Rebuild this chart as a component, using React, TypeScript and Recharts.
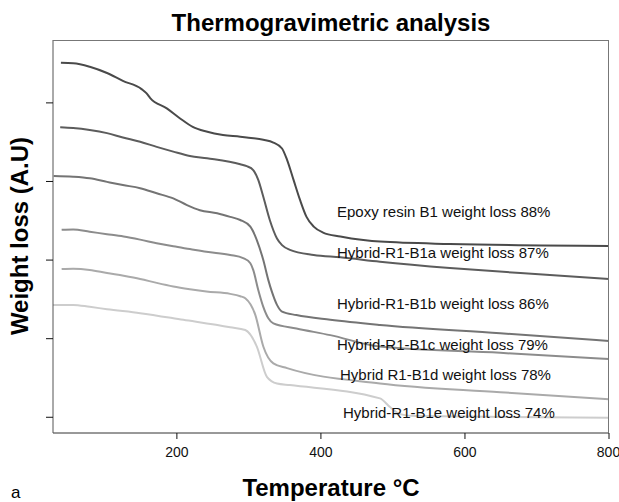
import React from 'react';
import { LineChart, Line, XAxis, YAxis } from 'recharts';

// temperature (°C) / relative weight (A.U)
const epoxyT = [39, 56, 79, 103, 125, 151, 158, 163, 186, 204, 222, 241, 264, 288, 297, 320, 334, 346, 353, 362, 371, 380, 390, 403, 427, 459, 482, 579, 800];
const epoxyW = [90.2, 90.1, 89.2, 87.6, 85.6, 83.5, 82.4, 81.2, 78.6, 76.1, 73.9, 72.7, 71.8, 71.4, 71.2, 70.6, 69.9, 68.4, 65.5, 60.4, 55.3, 51.0, 48.5, 47.0, 46.0, 45.1, 44.7, 44.1, 43.6];

const b1aT = [38, 56, 79, 103, 125, 149, 172, 195, 218, 242, 288, 297, 306, 313, 320, 329, 339, 346, 357, 390, 427, 482, 579, 677, 800];
const b1aW = [73.8, 73.6, 73.1, 72.3, 71.2, 70.1, 68.8, 67.6, 66.5, 65.9, 64.4, 63.9, 62.9, 60.4, 56.1, 50.2, 45.5, 43.8, 42.6, 41.3, 40.7, 39.6, 38.0, 36.7, 35.2];

const b1bT = [29, 56, 79, 103, 125, 149, 172, 195, 214, 232, 256, 274, 288, 302, 311, 320, 327, 332, 339, 346, 366, 413, 482, 649, 800];
const b1bW = [61.4, 61.2, 60.8, 59.9, 59.1, 58.3, 57.0, 55.7, 54.0, 52.7, 51.9, 51.0, 50.2, 48.5, 45.1, 40.0, 34.9, 31.9, 28.6, 26.9, 26.0, 24.8, 23.5, 21.4, 19.4];

const b1cT = [40, 56, 79, 103, 126, 149, 172, 195, 218, 241, 274, 292, 302, 306, 313, 320, 327, 334, 366, 413, 482, 649, 800];
const b1cW = [47.7, 47.8, 47.2, 46.6, 46.0, 45.2, 44.3, 43.5, 42.8, 42.1, 41.3, 40.5, 39.2, 37.5, 32.4, 28.1, 25.2, 23.9, 22.6, 20.9, 18.0, 16.4, 14.8];

const b1dT = [40, 56, 79, 103, 126, 149, 172, 195, 218, 241, 274, 288, 295, 309, 320, 334, 353, 482, 649, 800];
const b1dW = [37.7, 37.8, 37.5, 36.7, 36.0, 35.2, 34.2, 33.3, 32.6, 32.0, 31.4, 30.8, 30.3, 26.0, 18.0, 13.7, 12.5, 8.6, 6.4, 4.6];

const b1eT = [28, 56, 79, 103, 149, 209, 274, 295, 311, 325, 339, 357, 482, 496, 510, 531, 800];
const b1eW = [28.6, 28.6, 28.1, 27.5, 26.5, 24.8, 22.9, 22.2, 18.0, 10.3, 8.6, 8.2, 4.8, 2.6, 0.8, 0.3, -0.1];

const xTicks = [200, 400, 600, 800];
const yTicks = [0, 20, 40, 60, 80];

const labels = [
  'Epoxy resin B1 weight loss 88%',
  'Hybrid-R1-B1a weight loss 87%',
  'Hybrid-R1-B1b weight loss 86%',
  'Hybrid-R1-B1c weight loss 79%',
  'Hybrid R1-B1d weight loss 78%',
  'Hybrid-R1-B1e weight loss 74%',
];

const toPoints = (t: number[], w: number[]) => t.map((x, i) => ({ t: x, w: w[i] }));

const series = [
  { data: toPoints(epoxyT, epoxyW), color: '#4a4a4a' },
  { data: toPoints(b1aT, b1aW), color: '#5c5c5c' },
  { data: toPoints(b1bT, b1bW), color: '#747474' },
  { data: toPoints(b1cT, b1cW), color: '#8c8c8c' },
  { data: toPoints(b1dT, b1dW), color: '#aaaaaa' },
  { data: toPoints(b1eT, b1eW), color: '#cdcdcd' },
];

// where each annotation sits (px)
const labelPos = [
  { left: 337, top: 204 },
  { left: 337, top: 245 },
  { left: 337, top: 296 },
  { left: 337, top: 337 },
  { left: 340, top: 367 },
  { left: 343, top: 405 },
];

const font = '"Liberation Sans", Arial, sans-serif';
const X_DOMAIN = [28, 800];
const Y_DOMAIN = [-4, 96];

export default function App() {
  return (
    <div style={{ position: 'absolute', left: 0, top: 0, width: 619, height: 502, fontFamily: font, background: '#fff' }}>
      <LineChart width={619} height={502} margin={{ top: 40, right: 10, left: 43, bottom: 39 }}>
        <XAxis
          dataKey="t"
          type="number"
          domain={X_DOMAIN}
          ticks={xTicks}
          allowDataOverflow
          height={30}
          stroke="#333"
          tickLine={{ stroke: '#111' }}
          tickSize={6}
          tickMargin={8}
          tick={{ fontSize: 14, fill: '#111', fontFamily: font }}
        />
        <YAxis
          type="number"
          domain={Y_DOMAIN}
          ticks={yTicks}
          allowDataOverflow
          width={10}
          stroke="#555"
          tickLine={{ stroke: '#111' }}
          tickSize={7}
          tickFormatter={() => ''}
        />
        {series.map((s, i) => (
          <Line
            key={i}
            data={s.data}
            dataKey="w"
            type="monotone"
            stroke={s.color}
            strokeWidth={2}
            dot={false}
            isAnimationActive={false}
          />
        ))}
      </LineChart>
      {/* top and right edges of the plot frame */}
      <div style={{ position: 'absolute', left: 53, top: 40, width: 556, height: 393, borderTop: '1px solid #777', borderRight: '1px solid #777', boxSizing: 'border-box', pointerEvents: 'none' }} />
      <div style={{ position: 'absolute', left: 0, width: 662, top: 11, textAlign: 'center', fontSize: 24, fontWeight: 'bold', lineHeight: 1 }}>
        Thermogravimetric analysis
      </div>
      <div style={{ position: 'absolute', left: 0, width: 662, top: 476, textAlign: 'center', fontSize: 24, fontWeight: 'bold', lineHeight: 1 }}>
        Temperature °C
      </div>
      <div style={{ position: 'absolute', left: 20, top: 236, transform: 'translate(-50%, -50%) rotate(-90deg)', fontSize: 24, fontWeight: 'bold', lineHeight: 1, whiteSpace: 'nowrap' }}>
        Weight loss (A.U)
      </div>
      <div style={{ position: 'absolute', left: 11, top: 484, fontSize: 17, lineHeight: 1 }}>a</div>
      {labels.map((text, i) => (
        <div key={i} style={{ position: 'absolute', ...labelPos[i], fontSize: 15, lineHeight: 1, whiteSpace: 'nowrap', color: '#111' }}>
          {text}
        </div>
      ))}
    </div>
  );
}
